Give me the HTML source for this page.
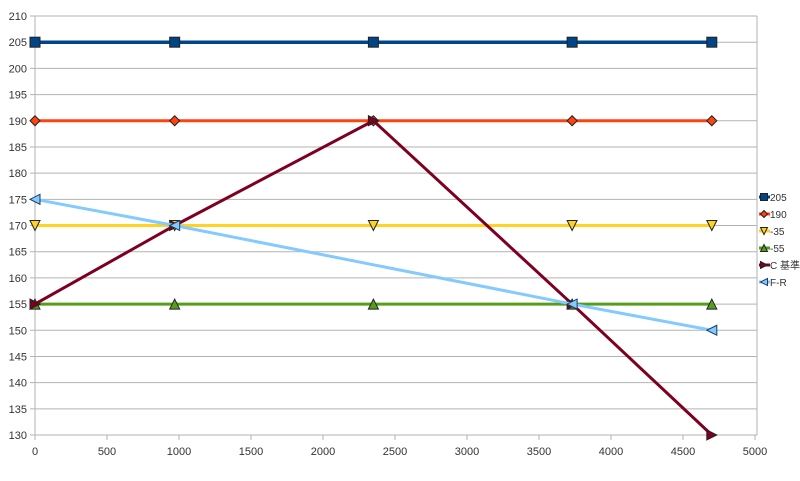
<!DOCTYPE html>
<html><head><meta charset="utf-8"><style>
body{margin:0;background:#fff;}
svg text{font-family:"Liberation Sans","Noto Sans CJK SC",sans-serif;font-size:11px;fill:#333;}
svg text.lg{font-size:10px;}
</style></head><body>
<svg id="chart" width="800" height="476" xmlns="http://www.w3.org/2000/svg"></svg>
<script>
const xTicks=[0,500,1000,1500,2000,2500,3000,3500,4000,4500,5000];
const yTicks=[130,135,140,145,150,155,160,165,170,175,180,185,190,195,200,205,210];
const xMain=[0,970,2350,3730,4700];
const s205=[205,205,205,205,205];
const s190=[190,190,190,190,190];
const s35=[170,170,170,170,170];
const s55=[155,155,155,155,155];
const sC=[155,170,190,155,130];
const xFR=[0,970,3730,4700];
const sFR=[175,170,155,150];
const names=["205","190","-35","-55","C 基準","F-R"];
const svg=document.getElementById('chart');
const NS='http://www.w3.org/2000/svg';
const X=v=>35+v*(720/5000);
const Y=v=>435-(v-130)*(419/80);
function mk(t,a,p){const e=document.createElementNS(NS,t);for(const k in a)e.setAttribute(k,a[k]);(p||svg).appendChild(e);return e;}
yTicks.forEach(v=>{
 const l=mk('line',{x1:30,x2:757,y1:Y(v),y2:Y(v),stroke:'#b3b3b3','stroke-width':1});
 
 
 const t=mk('text',{x:27,y:Y(v)+4,'text-anchor':'end'});t.textContent=v;
 
 
});
xTicks.forEach(v=>{
 const l=mk('line',{x1:X(v),x2:X(v),y1:435,y2:440,stroke:'#b3b3b3'});
 
 
 const t=mk('text',{x:X(v),y:455,'text-anchor':'middle'});t.textContent=v;
 
 
});
mk('line',{x1:35,x2:35,y1:16,y2:435,stroke:'#b3b3b3'});
mk('line',{x1:757,x2:757,y1:16,y2:435,stroke:'#b3b3b3'});
function marker(type,x,y,c,s,p){
 let e;
 if(type==='sq')e=mk('rect',{x:x-s,y:y-s,width:2*s,height:2*s},p);
 else if(type==='dia')e=mk('polygon',{points:`${x},${y-s} ${x+s},${y} ${x},${y+s} ${x-s},${y}`},p);
 else if(type==='down')e=mk('polygon',{points:`${x-s},${y-s} ${x+s},${y-s} ${x},${y+s}`},p);
 else if(type==='up')e=mk('polygon',{points:`${x-s},${y+s} ${x+s},${y+s} ${x},${y-s}`},p);
 else if(type==='right')e=mk('polygon',{points:`${x-s},${y-s} ${x+s},${y} ${x-s},${y+s}`},p);
 else e=mk('polygon',{points:`${x+s},${y-s} ${x-s},${y} ${x+s},${y+s}`},p);
 e.setAttribute('fill',c);e.setAttribute('stroke',type==='left'?'#1a3d66':'#222');e.setAttribute('stroke-width',1);
 return e;
}
const series=[
 {xs:xMain,ys:s205,c:'#004586',m:'sq',w:3.5,ms:5},
 {xs:xMain,ys:s190,c:'#ff420e',m:'dia',w:3,ms:5},
 {xs:xMain,ys:s35,c:'#ffd320',m:'down',w:3,ms:5},
 {xs:xMain,ys:s55,c:'#579d1c',m:'up',w:3,ms:5},
 {xs:xMain,ys:sC,c:'#7e0021',m:'right',w:3,ms:5},
 {xs:xFR,ys:sFR,c:'#83caff',m:'left',w:3,ms:5}
];
series.forEach((s,i)=>{
 const g=mk('g',{});
 
 
 const l=mk('polyline',{points:s.xs.map((x,j)=>X(x)+','+Y(s.ys[j])).join(' '),fill:'none',stroke:s.c,'stroke-width':s.w},g);
 
 
 s.xs.forEach((x,j)=>{const m=marker(s.m,X(x),Y(s.ys[j]),s.c,s.ms,g);
  
  });
 const ly=197+i*17;
 const lg=mk('g',{});
 
 
 mk('line',{x1:759,x2:770,y1:ly,y2:ly,stroke:s.c,'stroke-width':3},lg);
 marker(s.m,764,ly,s.c,3.5,lg);
 const t=mk('text',{x:770,y:ly+4,'class':'lg'},lg);t.textContent=names[i];
});
</script>
</body></html>
